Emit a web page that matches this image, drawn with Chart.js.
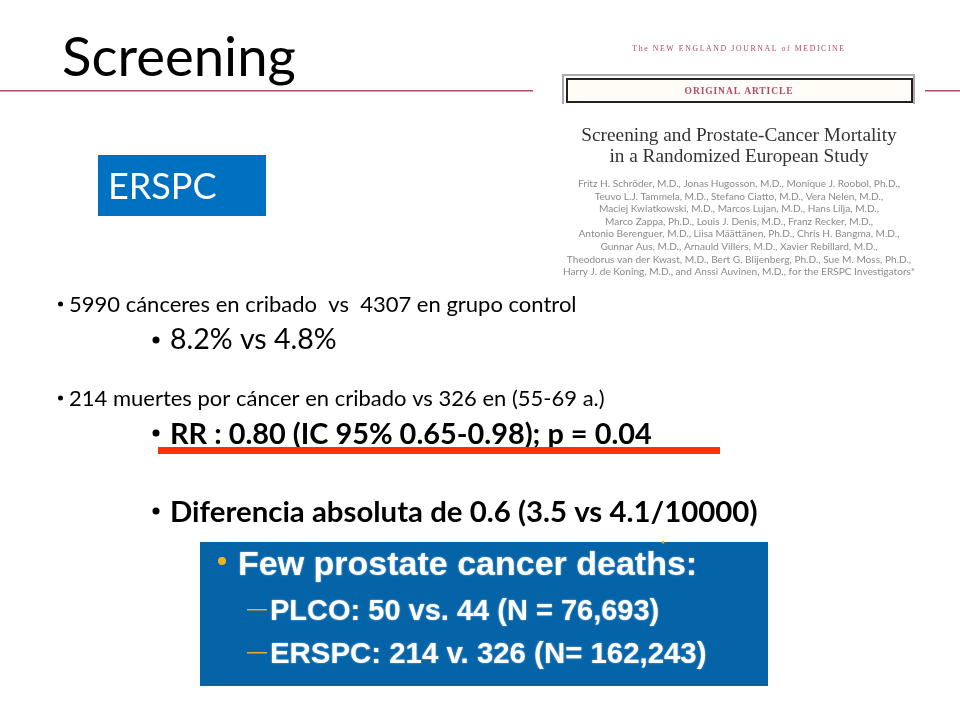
<!DOCTYPE html>
<html>
<head>
<meta charset="utf-8">
<title>Screening</title>
<script src="https://cdn.jsdelivr.net/npm/chart.js@4/dist/chart.umd.min.js"></script>
<style>
    html, body { margin: 0; padding: 0; background: #fff; }
    #wrap { width: 960px; height: 720px; position: relative; }
</style>
</head>
<body>
<div id="wrap"><canvas id="slide"></canvas></div>
<script>
// the slide has no plotted series, only text, so these lists hold its wording
var slideTitle = 'Screening';
var boxLabel = 'ERSPC';
var journalName = 'The NEW ENGLAND JOURNAL of MEDICINE';
var articleTag = 'ORIGINAL ARTICLE';
var articleTitle = ['Screening and Prostate-Cancer Mortality', 'in a Randomized European Study'];
var articleAuthors = [
    'Fritz H. Schröder, M.D., Jonas Hugosson, M.D., Monique J. Roobol, Ph.D.,',
    'Teuvo L.J. Tammela, M.D., Stefano Ciatto, M.D., Vera Nelen, M.D.,',
    'Maciej Kwiatkowski, M.D., Marcos Lujan, M.D., Hans Lilja, M.D.,',
    'Marco Zappa, Ph.D., Louis J. Denis, M.D., Franz Recker, M.D.,',
    'Antonio Berenguer, M.D., Liisa Määttänen, Ph.D., Chris H. Bangma, M.D.,',
    'Gunnar Aus, M.D., Arnauld Villers, M.D., Xavier Rebillard, M.D.,',
    'Theodorus van der Kwast, M.D., Bert G. Blijenberg, Ph.D., Sue M. Moss, Ph.D.,',
    'Harry J. de Koning, M.D., and Anssi Auvinen, M.D., for the ERSPC Investigators*'
];
var bulletLines = [
    '5990 cánceres en cribado  vs  4307 en grupo control',
    '8.2% vs 4.8%',
    '214 muertes por cáncer en cribado vs 326 en (55-69 a.)',
    'RR : 0.80 (IC 95% 0.65-0.98); p = 0.04',
    'Diferencia absoluta de 0.6 (3.5 vs 4.1/10000)'
];
var insetLines = [
    'Few prostate cancer deaths:',
    'PLCO: 50 vs. 44 (N = 76,693)',
    'ERSPC: 214 v. 326 (N= 162,243)'
];

var SANS = 'Lato, "Open Sans", sans-serif';
var SERIF = '"Liberation Serif", serif';
var ARIAL = '"Liberation Sans", Arial, sans-serif';

function text(ctx, str, x, y, font, color, align) {
    ctx.font = font;
    ctx.fillStyle = color;
    ctx.textAlign = align || 'left';
    ctx.textBaseline = 'alphabetic';
    ctx.fillText(str, x, y);
}

function dot(ctx, x, y, r, color) {
    ctx.fillStyle = color;
    ctx.beginPath();
    ctx.arc(x, y, r, 0, Math.PI * 2);
    ctx.fill();
}

var slidePlugin = {
    id: 'slide',
    afterDraw: function (chart) {
        var ctx = chart.ctx;
        ctx.save();

        // rules either side of the article image
        ctx.fillStyle = '#b5476a';
        ctx.fillRect(0, 90, 533, 1.5);
        ctx.fillRect(925, 90, 35, 1.5);

        text(ctx, slideTitle, 62, 76, '54.5px ' + SANS, '#000');

        ctx.fillStyle = '#0070c0';
        ctx.fillRect(98, 155, 168, 61);
        text(ctx, boxLabel, 108, 199, '36px ' + SANS, '#fff');

        // article header
        ctx.letterSpacing = '1.6px';
        text(ctx, journalName, 739, 51, '7.8px ' + SERIF, '#b5476a', 'center');
        ctx.letterSpacing = '0.9px';
        ctx.fillStyle = '#aaa';
        ctx.fillRect(562, 74, 353, 30);
        ctx.fillStyle = '#fff';
        ctx.fillRect(564, 76, 349, 30);
        ctx.fillStyle = '#fffdf6';
        ctx.strokeStyle = '#222';
        ctx.lineWidth = 2;
        ctx.fillRect(567, 79, 345, 23);
        ctx.strokeRect(567, 79, 345, 23);
        text(ctx, articleTag, 739, 94, 'bold 9.5px ' + SERIF, '#b5476a', 'center');
        ctx.letterSpacing = '0px';
        text(ctx, articleTitle[0], 739, 141, '19.3px ' + SERIF, '#333', 'center');
        text(ctx, articleTitle[1], 739, 162, '19.3px ' + SERIF, '#333', 'center');
        articleAuthors.forEach(function (line, i) {
            text(ctx, line, 739, 187 + i * 12.6, '10.1px ' + SANS, '#8a8a8a', 'center');
        });

        // body bullets
        dot(ctx, 60.5, 304, 2.5, '#000');
        text(ctx, bulletLines[0], 69, 312, '22px ' + SANS, '#000');
        dot(ctx, 156, 340, 3.5, '#000');
        text(ctx, bulletLines[1], 170, 349, '28.5px ' + SANS, '#000');
        dot(ctx, 60.5, 398, 2.5, '#000');
        text(ctx, bulletLines[2], 69, 406, '22px ' + SANS, '#000');
        dot(ctx, 156, 433, 3.5, '#000');
        text(ctx, bulletLines[3], 170, 444, 'bold 28.9px ' + SANS, '#000');
        ctx.fillStyle = '#ff3300';
        ctx.fillRect(158, 447, 562, 7);
        dot(ctx, 156, 511, 3.5, '#000');
        text(ctx, bulletLines[4], 170, 522, 'bold 29.4px ' + SANS, '#000');

        // blue inset
        ctx.fillStyle = '#0563a8';
        ctx.fillRect(200, 542, 568, 144);
        dot(ctx, 222, 561, 4, '#f0b323');
        dot(ctx, 663, 542, 1.5, '#f0b323');
        ctx.shadowColor = 'rgba(255,255,255,0.6)';
        ctx.shadowBlur = 2;
        text(ctx, insetLines[0], 238, 575, 'bold 34px ' + ARIAL, '#fff');
        text(ctx, insetLines[1], 270, 620, 'bold 29px ' + ARIAL, '#fff');
        text(ctx, insetLines[2], 270, 663, 'bold 29.4px ' + ARIAL, '#fff');
        ctx.shadowBlur = 0;
        ctx.fillStyle = '#e0b030';
        ctx.fillRect(247, 609, 20, 1.5);
        ctx.fillRect(247, 652, 20, 1.5);

        ctx.restore();
    }
};

new Chart(document.getElementById('slide').getContext('2d'), {
    type: 'bar',
    data: { labels: [], datasets: [] },
    options: {
        responsive: true,
        maintainAspectRatio: false,
        animation: false,
        events: [],
        layout: { padding: 0 },
        plugins: { legend: { display: false }, title: { display: false }, tooltip: { enabled: false } },
        scales: { x: { display: false }, y: { display: false } }
    },
    plugins: [slidePlugin]
});
</script>
</body>
</html>
